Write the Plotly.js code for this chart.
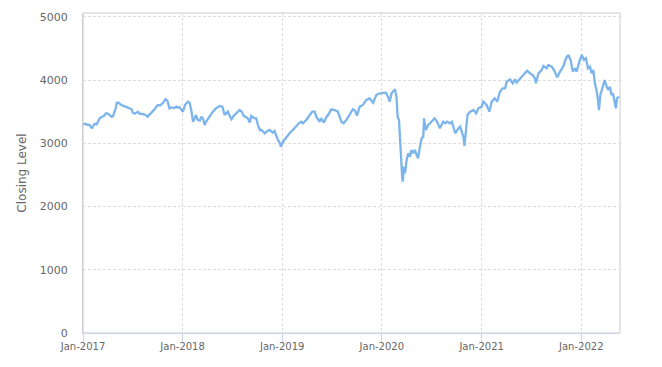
<!DOCTYPE html>
<html>
<head>
<meta charset="utf-8">
<script src="https://cdn.plot.ly/plotly-3.0.1.min.js"></script>
<style>
html,body{margin:0;padding:0;background:#fff;}
#chart{width:662px;height:367px;}
</style>
</head>
<body>
<div id="chart"></div>
<script>
const dates = [
"2017-01-02","2017-01-10","2017-01-18","2017-01-25","2017-01-31","2017-02-04","2017-02-12","2017-02-20","2017-03-03","2017-03-15","2017-03-20","2017-03-27","2017-04-03","2017-04-15","2017-04-21",
"2017-05-01","2017-05-05","2017-05-12","2017-05-21","2017-06-01","2017-06-10","2017-06-20","2017-06-28","2017-07-02","2017-07-10","2017-07-21","2017-07-28","2017-08-08","2017-08-18","2017-08-26",
"2017-09-08","2017-09-18","2017-10-02","2017-10-10","2017-10-20","2017-10-30","2017-11-06","2017-11-14","2017-11-22","2017-12-02","2017-12-09","2017-12-15","2017-12-21","2017-12-27",
"2018-01-02","2018-01-10","2018-01-21","2018-01-27","2018-02-02","2018-02-08","2018-02-13","2018-02-18","2018-02-22","2018-02-26","2018-03-05","2018-03-11","2018-03-18","2018-03-23","2018-03-28",
"2018-04-04","2018-04-12","2018-04-22","2018-05-02","2018-05-17","2018-05-27","2018-06-04","2018-06-10","2018-06-16","2018-06-22","2018-06-29","2018-07-08","2018-07-17","2018-07-29","2018-08-06",
"2018-08-13","2018-08-20","2018-08-28","2018-09-04","2018-09-10","2018-09-20","2018-09-28","2018-10-04","2018-10-11","2018-10-17","2018-10-29","2018-11-04","2018-11-16","2018-11-28","2018-12-04",
"2018-12-11","2018-12-16","2018-12-23","2018-12-27",
"2019-01-04","2019-01-16","2019-01-28","2019-02-09","2019-02-22","2019-03-03","2019-03-12","2019-03-18","2019-03-30","2019-04-12","2019-04-21","2019-04-30","2019-05-06","2019-05-18","2019-05-24",
"2019-06-03","2019-06-10","2019-06-18","2019-06-30","2019-07-12","2019-07-24","2019-08-06","2019-08-14","2019-08-24","2019-09-05","2019-09-17","2019-09-25","2019-10-02","2019-10-12","2019-10-24",
"2019-11-05","2019-11-17","2019-11-30","2019-12-12","2019-12-24",
"2020-01-06","2020-01-16","2020-01-24","2020-01-30","2020-02-06","2020-02-18","2020-02-24","2020-02-28","2020-03-04","2020-03-09","2020-03-12","2020-03-16","2020-03-18","2020-03-22","2020-03-26",
"2020-04-01","2020-04-07","2020-04-13","2020-04-19","2020-04-25","2020-05-01","2020-05-07","2020-05-13","2020-05-19","2020-05-26","2020-06-01","2020-06-04","2020-06-10","2020-06-19","2020-07-01",
"2020-07-13","2020-07-22","2020-08-01","2020-08-13","2020-08-20","2020-08-28","2020-09-07","2020-09-14","2020-09-26","2020-10-08","2020-10-14","2020-10-20","2020-10-26","2020-10-30","2020-11-05",
"2020-11-10","2020-11-20","2020-12-02","2020-12-12","2020-12-20",
"2021-01-01","2021-01-07","2021-01-19","2021-01-29","2021-02-07","2021-02-18","2021-02-27","2021-03-09","2021-03-19","2021-03-28","2021-04-03","2021-04-15","2021-04-25","2021-05-03","2021-05-09",
"2021-05-19","2021-05-28","2021-06-09","2021-06-17","2021-06-27","2021-07-07","2021-07-15","2021-07-19","2021-07-28","2021-08-09","2021-08-15","2021-08-27","2021-09-02","2021-09-15","2021-09-23",
"2021-10-01","2021-10-05","2021-10-15","2021-10-27","2021-11-06","2021-11-15","2021-11-23","2021-12-01","2021-12-09","2021-12-15","2021-12-25",
"2022-01-03","2022-01-11","2022-01-18","2022-01-26","2022-02-02","2022-02-08","2022-02-14","2022-02-20","2022-02-26","2022-03-04","2022-03-07","2022-03-12","2022-03-20","2022-03-28","2022-04-04",
"2022-04-10","2022-04-16","2022-04-22","2022-04-27","2022-05-04","2022-05-08","2022-05-12","2022-05-20"
];
const closes = [
3300,3310,3290,3295,3250,3248,3310,3300,3397,3420,3440,3480,3470,3423,3430,
3560,3644,3640,3608,3590,3570,3555,3540,3486,3470,3502,3470,3465,3450,3423,
3476,3530,3608,3600,3634,3698,3680,3555,3570,3560,3581,3565,3575,3528,
3500,3610,3660,3640,3520,3343,3380,3449,3420,3370,3360,3423,3380,3291,3340,
3397,3440,3502,3550,3592,3581,3449,3480,3502,3440,3381,3440,3476,3528,3500,
3434,3420,3397,3330,3434,3400,3397,3291,3212,3212,3160,3185,3212,3170,3196,
3117,3054,3011,2948,
3027,3097,3160,3212,3275,3318,3343,3318,3370,3449,3502,3502,3423,3343,3397,
3330,3400,3449,3539,3528,3502,3343,3318,3370,3449,3540,3520,3440,3581,3608,
3687,3713,3644,3766,3793,
3793,3803,3739,3660,3793,3856,3740,3423,3370,3000,2580,2450,2394,2631,2527,
2737,2843,2790,2896,2843,2896,2843,2764,2922,3081,3107,3397,3212,3291,3343,
3397,3343,3240,3343,3318,3343,3318,3343,3160,3239,3265,3185,3107,2959,3200,
3449,3502,3528,3476,3555,
3581,3660,3608,3502,3660,3713,3660,3818,3871,3871,3977,4013,3951,4013,3962,
4013,4057,4108,4150,4108,4082,4030,3951,4108,4161,4225,4188,4240,4214,4161,
4082,4046,4135,4214,4346,4399,4320,4135,4188,4135,4293,
4399,4320,4346,4188,4214,4108,4161,3951,3845,3660,3528,3766,3897,4003,3897,
3845,3897,3766,3793,3634,3555,3713,3739
];
const yTitle = "Closing Level";

const trace = {
  x: dates, y: closes, type: "scatter", mode: "lines",
  line: {color: "#7cb5ec", width: 2.3},
  hoverinfo: "x+y"
};

const layout = {
  width: 662, height: 367,
  margin: {l: 83, r: 42, t: 13, b: 34, pad: 0},
  paper_bgcolor: "#ffffff", plot_bgcolor: "#ffffff",
  font: {family: "DejaVu Sans, sans-serif", color: "#666666"},
  showlegend: false,
  xaxis: {
    type: "date",
    range: ["2017-01-01", "2022-05-23"],
    tick0: "2017-01-01", dtick: "M12",
    tickformat: "%b-%Y",
    tickfont: {size: 10, color: "#666666"},
    showgrid: true, gridcolor: "#dddddd", griddash: "3px,2px", gridwidth: 1,
    ticks: "outside", ticklen: 8, tickcolor: "#ccd6eb", tickwidth: 1,
    ticklabelstandoff: -4,
    showline: true, linecolor: "#ccd6eb", linewidth: 1,
    zeroline: false, fixedrange: true
  },
  yaxis: {
    range: [0, 5063],
    tick0: 0, dtick: 1000,
    tickfont: {size: 11, color: "#666666"},
    showgrid: true, gridcolor: "#dddddd", griddash: "3px,2px", gridwidth: 1,
    ticks: "", ticklabelstandoff: 12,
    showline: true, linecolor: "#cccccc", linewidth: 1,
    zeroline: false, fixedrange: true,
    title: {text: yTitle, font: {size: 12, color: "#666666"}, standoff: 10}
  },
  shapes: [{
    type: "rect", xref: "paper", yref: "paper", x0: 0, x1: 1, y0: 0, y1: 1,
    line: {color: "#cccccc", width: 1}, layer: "below"
  }]
};

Plotly.newPlot("chart", [trace], layout, {displayModeBar: false, staticPlot: true});
</script>
</body>
</html>
